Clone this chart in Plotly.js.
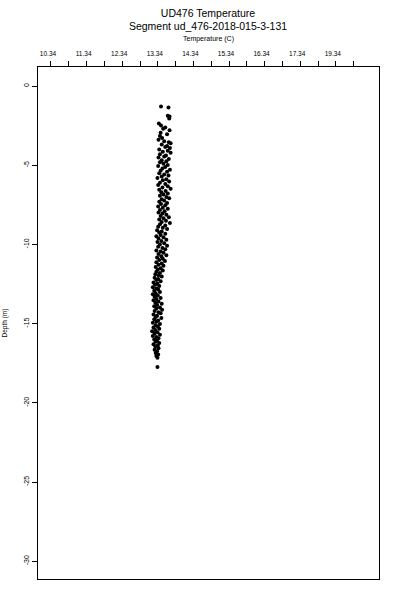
<!DOCTYPE html>
<html>
<head>
<meta charset="utf-8">
<script src="https://cdn.plot.ly/plotly-3.0.1.min.js"></script>
<style>html,body{margin:0;padding:0;background:#fff;}#chart{width:400px;height:600px;}</style>
</head>
<body>
<div id="chart"></div>
<script>
// Depth (m, negative downward) and temperature (C) readings
var depth = [
-1.30,-1.35,-1.88,-1.93,-2.05,-2.36,-2.50,-2.62,-2.70,-2.80,-2.95,-3.05,-3.15,-3.28,-3.40,-3.48,-3.55,-3.62,-3.70,-3.78,
-3.85,-3.92,-4.00,-4.08,-4.15,-4.22,-4.30,-4.38,-4.45,-4.52,-4.60,-4.68,-4.75,-4.82,-4.90,-4.98,-5.05,-5.12,-5.20,-5.28,
-5.35,-5.42,-5.50,-5.58,-5.65,-5.72,-5.80,-5.88,-5.95,-6.02,-6.10,-6.18,-6.25,-6.32,-6.40,-6.48,-6.55,-6.62,-6.70,-6.78,
-6.85,-6.92,-7.00,-7.08,-7.15,-7.22,-7.30,-7.38,-7.45,-7.52,-7.60,-7.68,-7.75,-7.82,-7.90,-7.98,-8.05,-8.12,-8.20,-8.28,
-8.35,-8.42,-8.50,-8.58,-8.65,-8.72,-8.80,-8.88,-8.95,-9.02,-9.10,-9.18,-9.25,-9.32,-9.40,-9.48,-9.55,-9.62,-9.70,-9.78,
-9.85,-9.92,-10.00,-10.08,-10.15,-10.22,-10.30,-10.38,-10.45,-10.52,-10.60,-10.68,-10.75,-10.82,-10.90,-10.98,-11.05,-11.12,-11.20,-11.28,
-11.35,-11.42,-11.50,-11.58,-11.65,-11.72,-11.80,-11.88,-11.95,-12.02,-12.10,-12.18,-12.25,-12.32,-12.40,-12.48,-12.55,-12.62,-12.70,-12.78,
-12.85,-12.92,-13.00,-13.08,-13.15,-13.22,-13.30,-13.38,-13.45,-13.52,-13.60,-13.68,-13.75,-13.82,-13.90,-13.98,-14.05,-14.12,-14.20,-14.28,
-14.35,-14.42,-14.50,-14.58,-14.65,-14.72,-14.80,-14.88,-14.95,-15.02,-15.10,-15.18,-15.25,-15.32,-15.40,-15.48,-15.55,-15.62,-15.70,-15.78,
-15.85,-15.92,-16.00,-16.08,-16.15,-16.22,-16.30,-16.38,-16.45,-16.55,-16.65,-16.75,-16.85,-16.95,-17.05,-17.15,-17.74
];
var temperature = [
13.43,13.64,13.62,13.67,13.66,13.37,13.43,13.55,13.49,13.67,13.42,13.60,13.40,13.46,13.36,13.52,13.65,13.70,13.45,13.60,
13.55,13.68,13.38,13.62,13.48,13.70,13.40,13.57,13.52,13.36,13.65,13.45,13.58,13.40,13.50,13.62,13.35,13.55,13.47,13.68,
13.42,13.60,13.38,13.52,13.64,13.45,13.33,13.58,13.48,13.66,13.40,13.55,13.35,13.62,13.47,13.70,13.38,13.56,13.44,13.62,
13.50,13.40,13.58,13.66,13.45,13.52,13.38,13.60,13.43,13.55,13.35,13.48,13.62,13.40,13.53,13.36,13.47,13.58,13.42,13.65,
13.50,13.38,13.57,13.45,13.68,13.40,13.55,13.35,13.48,13.60,13.32,13.45,13.38,13.55,13.42,13.30,13.50,13.36,13.58,13.44,
13.33,13.52,13.40,13.60,13.35,13.47,13.55,13.30,13.42,13.50,13.36,13.58,13.44,13.32,13.48,13.38,13.54,13.30,13.45,13.36,
13.50,13.28,13.42,13.34,13.48,13.30,13.40,13.27,13.36,13.45,13.25,13.35,13.30,13.42,13.22,13.33,13.26,13.38,13.20,13.30,
13.35,13.24,13.40,13.28,13.20,13.34,13.25,13.42,13.30,13.22,13.36,13.27,13.45,13.32,13.24,13.40,13.30,13.46,13.25,13.36,
13.42,13.22,13.32,13.28,13.44,13.24,13.35,13.30,13.20,13.40,13.28,13.34,13.22,13.38,13.27,13.18,13.33,13.25,13.40,13.20,
13.30,13.36,13.24,13.32,13.28,13.38,13.22,13.34,13.27,13.36,13.25,13.32,13.28,13.35,13.30,13.33,13.33
];
// Axis ticks (as printed on the original)
var xTickVals = [10.34,10.84,11.34,11.84,12.34,12.84,13.34,13.84,14.34,14.84,15.34,15.84,16.34,16.84,17.34,17.84,18.34,18.84];
var xTickText = ['10.34','','11.34','','12.34','','13.34','','14.34','','15.34','','16.34','','17.34','','19.34',''];
var yTickVals = [0,-5,-10,-15,-20,-25,-30];
var yTickText = ['0','-5','-10','-15','-20','-25','-30'];

var FONT = 'Liberation Sans, Arial, sans-serif';

var trace = {
  x: temperature,
  y: depth,
  type: 'scatter',
  mode: 'markers',
  marker: {color: '#000', size: 4},
  hoverinfo: 'x+y'
};

var layout = {
  width: 400, height: 600,
  margin: {l: 38, r: 21, t: 67, b: 21, pad: 0},
  paper_bgcolor: '#fff', plot_bgcolor: '#fff',
  showlegend: false,
  font: {family: FONT, color: '#000'},
  title: {
    text: 'UD476 Temperature<br>Segment ud_476-2018-015-3-131',
    font: {family: FONT, size: 10.5, color: '#000'},
    x: 0.52, xanchor: 'center',
    y: 0.972, yanchor: 'top', yref: 'container'
  },
  xaxis: {
    side: 'top',
    range: [9.975, 19.553],
    tickmode: 'array', tickvals: xTickVals, ticktext: xTickText,
    ticks: 'outside', ticklen: 5, tickwidth: 1, tickcolor: '#000',
    tickfont: {family: FONT, size: 6.5, color: '#000'},
    ticklabelshift: -3,
    ticklabelstandoff: 2,
    showline: true, linecolor: '#000', linewidth: 1, mirror: true,
    showgrid: false, zeroline: false
  },
  yaxis: {
    range: [-31.12, 1.2],
    tickmode: 'array', tickvals: yTickVals, ticktext: yTickText,
    tickangle: -90,
    ticks: 'outside', ticklen: 5, tickwidth: 1, tickcolor: '#000',
    tickfont: {family: FONT, size: 7, color: '#000'},
    showline: true, linecolor: '#000', linewidth: 1, mirror: true,
    showgrid: false, zeroline: false,
    title: {text: 'Depth (m)', font: {family: FONT, size: 6.5, color: '#000'}, standoff: 14}
  },
  annotations: [{
    text: 'Temperature (C)',
    xref: 'paper', yref: 'paper',
    x: 0.5, y: 1.0547, xanchor: 'center', yanchor: 'middle',
    showarrow: false,
    font: {family: FONT, size: 7, color: '#000'}
  }]
};

Plotly.newPlot('chart', [trace], layout, {displayModeBar: false, staticPlot: true});
</script>
</body>
</html>
